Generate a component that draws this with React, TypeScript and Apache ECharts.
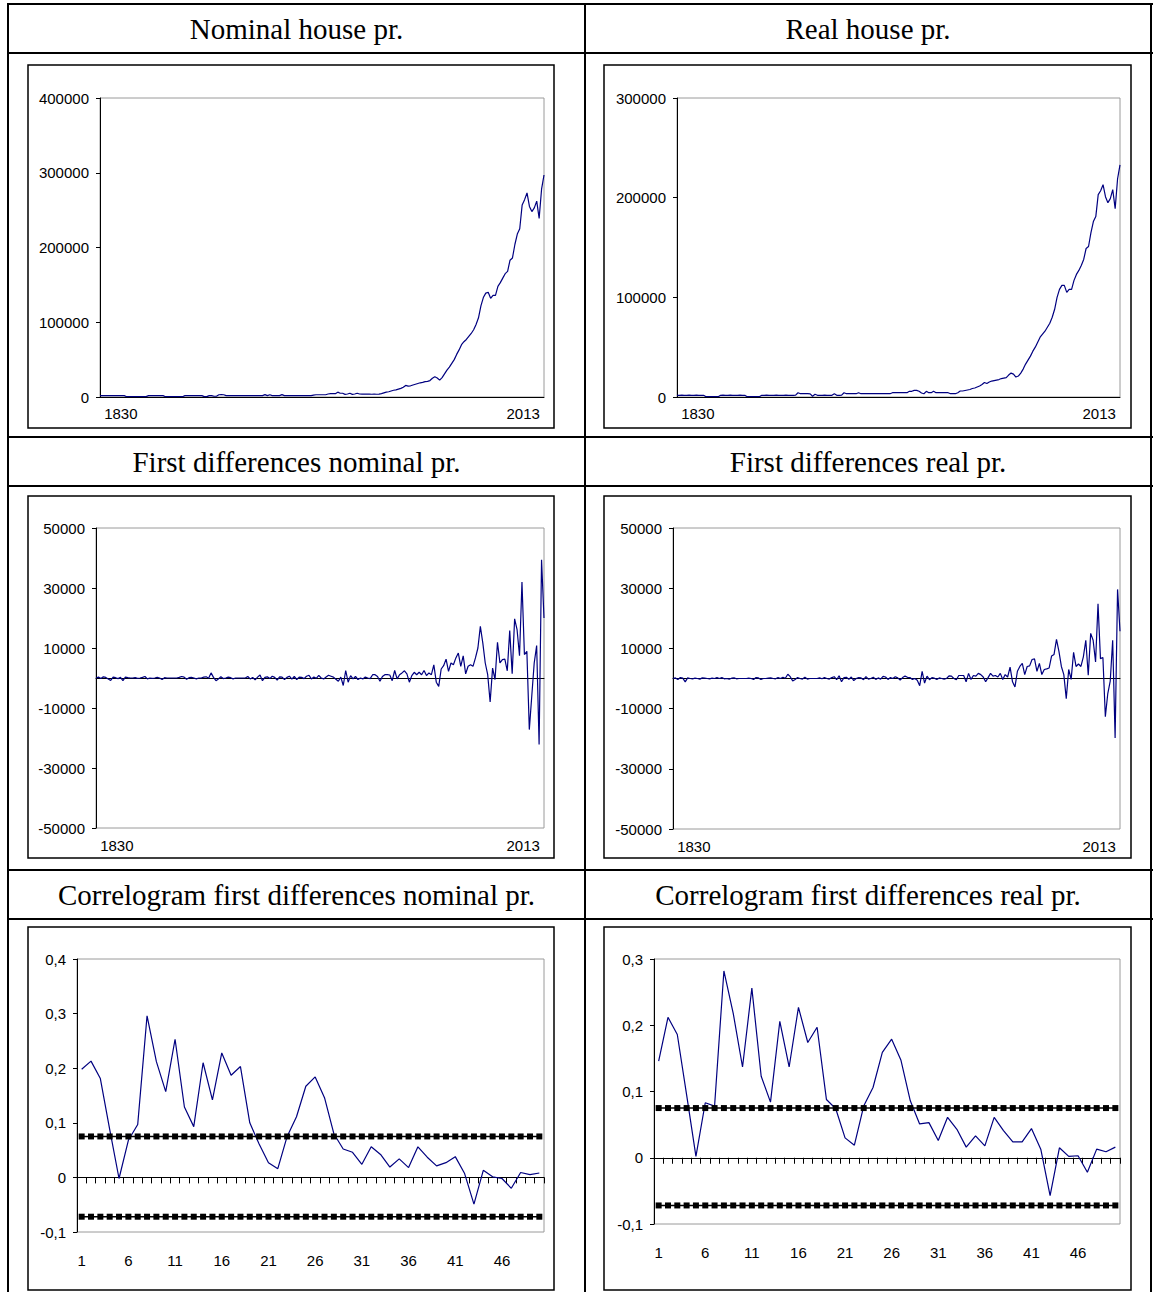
import React, { useEffect, useRef } from 'react';
import * as echarts from 'echarts';

// ---------- categories ----------
const years: string[] = [];
for (let y = 1830; y <= 2013; y++) years.push(String(y));
const lags: string[] = [];
for (let k = 1; k <= 50; k++) lags.push(String(k));

// ---------- nominal house price, 1830-2013 ----------
const nominalPrice: number[] = [
  // 1830-1839
  1800, 1800, 1900, 1900, 1800, 1800, 1900, 1800, 1800, 1900,
  // 1840-1849
  1800, 400, 400, 400, 500, 400, 400, 400, 400, 500,
  // 1850-1859
  1800, 1900, 1800, 1800, 1900, 1800, 1800, 400, 400, 400,
  // 1860-1869
  400, 400, 400, 400, 400, 1800, 1800, 1900, 1800, 1800,
  // 1870-1879
  1800, 1900, 1800, 500, 500, 1800, 1900, 1000, 1000, 3000,
  // 1880-1889
  3200, 3000, 1800, 1800, 1900, 1800, 1800, 1800, 1900, 1800,
  // 1890-1899
  1800, 1800, 1900, 1800, 1800, 1800, 1800, 1900, 3200, 1800,
  // 1900-1909
  3000, 1800, 1900, 1800, 1800, 3200, 1800, 1800, 1900, 1800,
  // 1910-1919
  1800, 1900, 1800, 1800, 1800, 1800, 1800, 1800, 2500, 3000,
  // 1920-1929
  3000, 3000, 3000, 3000, 4000, 4500, 4500, 4500, 6500, 5000,
  // 1930-1939
  5000, 3500, 4000, 5000, 3500, 4000, 5000, 4000, 3800, 3800,
  // 1940-1945
  3800, 3800, 3700, 3800, 3700, 3800,
  // 1946-1955
  4500, 5500, 6500, 7000, 8000, 9000, 9500, 10500, 11500, 13000,
  // 1956-1965
  15500, 14500, 15000, 16000, 17000, 18000, 19000, 19500, 20500, 21000,
  // 1966-1975
  22000, 25000, 27000, 25500, 22500, 26000, 31000, 36000, 40000, 45000,
  // 1976-1985
  50000, 57000, 63000, 70000, 74000, 77000, 81000, 85000, 90000, 97000,
  // 1986-1995
  106000, 122000, 133000, 139000, 140000, 132000, 136000, 136000, 148000, 153000,
  // 1996-2005
  159000, 165000, 168000, 183000, 186000, 204000, 218000, 225000, 257000, 264000,
  // 2006-2013
  273000, 255000, 248000, 253000, 262000, 239000, 278000, 297000,
];

// ---------- real house price, 1830-2013 ----------
const realPrice: number[] = [
  // 1830-1839
  1700, 1700, 1800, 1700, 1700, 1800, 1700, 1700, 1800, 1700,
  // 1840-1849
  1700, 1700, 300, 300, 400, 300, 300, 300, 1700, 1800,
  // 1850-1859
  1700, 1700, 1800, 1700, 1700, 1700, 1800, 1700, 1700, 300,
  // 1860-1869
  300, 300, 400, 300, 300, 1700, 1700, 1800, 1700, 1700,
  // 1870-1879
  1700, 1800, 1700, 1700, 1700, 1800, 1700, 1700, 1700, 1800,
  // 1880-1889
  4300, 3300, 3300, 3300, 3300, 3200, 800, 2700, 1700, 1700,
  // 1890-1899
  1700, 1800, 1700, 1700, 1700, 3300, 1700, 1700, 1800, 4300,
  // 1900-1909
  3300, 3300, 3300, 3300, 3300, 4300, 3300, 3300, 3300, 3300,
  // 1910-1919
  3300, 3300, 3300, 3300, 3300, 3300, 3300, 3300, 3300, 4300,
  // 1920-1929
  4300, 4300, 4300, 4300, 4300, 4300, 5700, 5700, 6700, 6700,
  // 1930-1939
  5700, 4000, 3300, 5700, 4300, 4300, 5700, 4300, 4300, 4300,
  // 1940-1946
  4300, 4300, 4300, 3300, 3300, 3300, 4300,
  // 1947-1956
  6000, 6000, 6500, 7000, 7500, 8500, 9000, 10000, 11000, 12500,
  // 1957-1966
  14500, 13500, 15000, 16000, 16500, 17000, 17500, 18500, 19000, 19500,
  // 1967-1976
  22000, 24000, 23000, 20000, 21000, 24000, 28000, 33000, 37000, 41000,
  // 1977-1986
  46000, 50000, 55000, 60000, 63000, 66000, 70000, 74000, 80000, 88000,
  // 1987-1996
  100000, 108000, 112000, 112000, 105000, 108000, 108000, 117000, 123000, 127000,
  // 1997-2006
  132000, 138000, 149000, 151000, 165000, 176000, 181000, 203000, 207000, 213000,
  // 2007-2013
  201000, 195000, 199000, 208000, 189000, 219000, 233000,
];

// ---------- first differences, nominal, 1830-2013 ----------
const nominalDiff: number[] = [
  // 1830-1839
  0, 300, -200, 400, 200, -300, -800, 300, 100, -200,
  // 1840-1849
  200, -900, 300, 100, 0, 0, 100, -100, 0, 200,
  // 1850-1859
  500, -300, 0, -100, 0, 200, 0, -500, 100, 0,
  // 1860-1869
  0, 0, 0, 0, 200, 500, 300, -400, 100, 200,
  // 1870-1879
  0, -300, 0, 0, 300, 400, -100, 1700, 200, -900,
  // 1880-1889
  -300, 400, -200, 0, 300, 100, -300, 0, 0, 0,
  // 1890-1899
  0, 0, 500, -300, 200, -600, 300, 1000, -900, 200,
  // 1900-1909
  400, -200, 600, 200, -700, 400, 300, -500, 200, 600,
  // 1910-1919
  -400, 500, -500, 300, 200, -200, 600, 900, -300, 300,
  // 1920-1929
  -100, 900, 0, -300, 300, 900, 600, 300, -400, -1100,
  // 1930-1939
  300, -2500, 2500, -1400, 800, -300, 500, -500, 0, -300,
  // 1940-1947
  300, 0, -200, 1100, 1100, 500, -1100, 500,
  // 1948-1957
  1100, 1100, 1000, -900, 2500, -300, 1100, 1700, 2400, 1400,
  // 1958-1967
  -1400, 800, 1900, 1100, 1900, 1100, 2500, 800, 1700, 1100,
  // 1968-1977
  4400, -1400, -2800, 3000, 4100, 6300, 2200, 5000, 4400, 6700,
  // 1978-1987
  8300, 3900, 7400, 1400, 3900, 4400, 3900, 6700, 10000, 17200,
  // 1988-1997
  11700, 5000, 1100, -8000, 3300, -500, 11900, 5000, 6100, 6300,
  // 1998-2007
  2400, 15800, 1400, 19700, 16100, 7400, 32000, 7800, 8900, -17200,
  // 2008-2013
  -6100, 5000, 10800, -22200, 39400, 20000,
];

// ---------- first differences, real, 1830-2013 ----------
const realDiff: number[] = [
  // 1830-1839
  0, 200, -300, 300, 100, -1100, 200, 0, -100, 100,
  // 1840-1849
  0, -200, 200, 100, 0, -100, 100, 0, 300, 0,
  // 1850-1859
  300, -100, 0, -200, 100, 200, -100, 0, 0, 0,
  // 1860-1869
  0, 100, 0, -300, 300, 200, -300, 0, 0, 100,
  // 1870-1879
  200, 0, -100, 300, 0, 400, 100, 1400, 600, -800,
  // 1880-1889
  -300, 300, 0, -200, 400, -200, 0, 0, 0, 0,
  // 1890-1899
  200, -100, 300, 0, -200, 300, 600, -400, 900, -1100,
  // 1900-1909
  300, 400, -300, 500, -700, 0, 300, 200, -400, 600,
  // 1910-1919
  -200, 0, 400, -300, 200, -200, 700, 500, -300, 300,
  // 1920-1929
  0, 600, 200, -500, 300, 800, 400, 300, -300, 0,
  // 1930-1939
  -600, -2400, 2400, -1500, 800, -400, 300, 100, -300, 200,
  // 1940-1947
  0, -200, 0, 900, 800, 0, -400, 1000,
  // 1948-1957
  1000, 1000, -1100, 1700, -300, 1000, 800, 1700, 1300, 500,
  // 1958-1967
  -1100, 300, 1700, 800, 1000, 500, 1700, -300, 1300, 500,
  // 1968-1977
  3800, -1100, -2800, 2400, 4000, 5000, 1300, 4000, 4200, 6300,
  // 1978-1987
  6500, 2400, 5000, 1300, 3000, 3200, 3500, 7500, 8000, 13000,
  // 1988-1997
  9000, 4000, 1300, -6700, 3000, -300, 8700, 4000, 4800, 4000,
  // 1998-2007
  7200, 12700, 1100, 15000, 12700, 5500, 24800, 6600, 7000, -12700,
  // 2008-2013
  -5000, -900, 12700, -19800, 29600, 15700,
];

// ---------- correlograms, lags 1-50 ----------
const acfNominal: number[] = [
  0.198, 0.213, 0.181, 0.088, -0.002, 0.068, 0.097, 0.296, 0.212, 0.157,
  0.253, 0.129, 0.093, 0.210, 0.142, 0.228, 0.187, 0.203, 0.100, 0.061,
  0.027, 0.016, 0.075, 0.111, 0.167, 0.184, 0.146, 0.080, 0.052, 0.046,
  0.024, 0.056, 0.042, 0.019, 0.034, 0.018, 0.056, 0.037, 0.021, 0.027,
  0.038, 0.007, -0.049, 0.013, 0.001, -0.002, -0.020, 0.009, 0.005, 0.008,
];
const acfReal: number[] = [
  0.146, 0.212, 0.186, 0.095, 0.002, 0.083, 0.078, 0.282, 0.218, 0.137,
  0.256, 0.123, 0.084, 0.206, 0.137, 0.227, 0.174, 0.197, 0.088, 0.074,
  0.030, 0.019, 0.078, 0.106, 0.159, 0.179, 0.147, 0.086, 0.051, 0.053,
  0.026, 0.061, 0.043, 0.016, 0.033, 0.018, 0.061, 0.041, 0.024, 0.024,
  0.044, 0.013, -0.057, 0.015, 0.002, 0.003, -0.022, 0.013, 0.009, 0.016,
];
const bandUpperValue = 0.075;
const bandLowerValue = -0.072;
const bandUpper: number[] = lags.map(() => bandUpperValue);
const bandLower: number[] = lags.map(() => bandLowerValue);

// ---------- tick settings ----------
const nominalPriceTicks = { min: 0, max: 400000, interval: 100000 };
const realPriceTicks = { min: 0, max: 300000, interval: 100000 };
const diffTicks = { min: -50000, max: 50000, interval: 20000 };
const acfNominalTicks = { min: -0.1, max: 0.4, interval: 0.1 };
const acfRealTicks = { min: -0.1, max: 0.3, interval: 0.1 };

const headers = [
  ['Nominal house pr.', 'Real house pr.'],
  ['First differences nominal pr.', 'First differences real pr.'],
  ['Correlogram first differences nominal pr.', 'Correlogram first differences real pr.'],
];

const NAVY = '#000080';
const LABEL_FONT = "'Liberation Sans', Arial, sans-serif";
const LABEL_SIZE = 15;

export default function App() {
  const ref = useRef<HTMLDivElement>(null);

  useEffect(() => {
    if (!ref.current) return;
    const chart = echarts.init(ref.current, undefined, { renderer: 'svg' });

    const labelStyle = { color: '#000', fontFamily: LABEL_FONT, fontSize: LABEL_SIZE };

    const grids = [
      { left: 100, top: 98, width: 444, height: 299 },
      { left: 677, top: 98, width: 443, height: 299 },
      { left: 96, top: 528, width: 448, height: 300 },
      { left: 673, top: 528, width: 447, height: 301 },
      { left: 77, top: 959, width: 467, height: 273 },
      { left: 654, top: 959, width: 466, height: 265 },
    ].map((g) => ({ ...g, show: true, borderColor: '#9a9a9a', borderWidth: 1, backgroundColor: 'transparent' }));

    const lastYear = years.length - 1;
    const yearLabelAxis = (gridIndex: number, margin: number, showLine: boolean) => ({
      type: 'category',
      gridIndex,
      data: years,
      boundaryGap: false,
      position: 'bottom',
      axisLine: { show: showLine, onZero: false, lineStyle: { color: '#000', width: 1 } },
      axisTick: { show: false },
      splitLine: { show: false },
      axisLabel: {
        ...labelStyle,
        margin,
        interval: (i: number) => i === 0 || i === lastYear,
        alignMinLabel: 'left',
        alignMaxLabel: 'right',
        formatter: (v: string, i: number) => (i === 0 ? ' ' + v : v + ' '),
      },
    });
    const zeroAxis = (gridIndex: number, data: string[], ticks: boolean, boundaryGap: boolean) => ({
      type: 'category',
      gridIndex,
      data,
      boundaryGap,
      position: 'bottom',
      axisLine: { show: true, onZero: true, lineStyle: { color: '#000', width: 1 } },
      axisTick: { show: ticks, interval: 0, length: 6, lineStyle: { color: '#000', width: 1 } },
      axisLabel: { show: false },
      splitLine: { show: false },
    });
    const lagLabelAxis = (gridIndex: number) => ({
      type: 'category',
      gridIndex,
      data: lags,
      boundaryGap: true,
      position: 'bottom',
      axisLine: { show: false, onZero: false },
      axisTick: { show: false },
      splitLine: { show: false },
      axisLabel: { ...labelStyle, margin: 21, interval: (i: number) => i % 5 === 0 },
    });

    const valueAxis = (gridIndex: number, t: { min: number; max: number; interval: number }, fmt: (v: number) => string) => ({
      type: 'value',
      gridIndex,
      min: t.min,
      max: t.max,
      interval: t.interval,
      axisLine: { show: true, onZero: false, lineStyle: { color: '#000', width: 1 } },
      axisTick: { show: true, length: 4, lineStyle: { color: '#000', width: 1 } },
      splitLine: { show: false },
      axisLabel: { ...labelStyle, margin: 11, formatter: fmt },
    });
    const intFmt = (v: number) => String(Math.round(v));
    const decFmt = (v: number) => {
      const r = Math.round(v * 10) / 10;
      return r === 0 ? '0' : r.toFixed(1).replace('.', ',');
    };

    const xAxis = [
      yearLabelAxis(0, 9, true), // 0
      yearLabelAxis(1, 9, true), // 1
      yearLabelAxis(2, 10, false), // 2
      zeroAxis(2, years, false, false), // 3
      yearLabelAxis(3, 10, false), // 4
      zeroAxis(3, years, false, false), // 5
      lagLabelAxis(4), // 6
      zeroAxis(4, lags, true, true), // 7
      lagLabelAxis(5), // 8
      zeroAxis(5, lags, true, true), // 9
    ];
    const yAxis = [
      valueAxis(0, nominalPriceTicks, intFmt),
      valueAxis(1, realPriceTicks, intFmt),
      valueAxis(2, diffTicks, intFmt),
      valueAxis(3, diffTicks, intFmt),
      valueAxis(4, acfNominalTicks, decFmt),
      valueAxis(5, acfRealTicks, decFmt),
    ];

    const lineSeries = (data: number[], xi: number, yi: number) => ({
      type: 'line',
      data,
      xAxisIndex: xi,
      yAxisIndex: yi,
      showSymbol: false,
      symbol: 'none',
      lineStyle: { color: NAVY, width: 1.2 },
      itemStyle: { color: NAVY },
      z: 3,
    });
    const bandSeries = (data: number[], xi: number, yi: number) => ({
      type: 'line',
      data,
      xAxisIndex: xi,
      yAxisIndex: yi,
      symbol: 'rect',
      symbolSize: 6,
      showSymbol: true,
      lineStyle: { color: '#000', width: 1.5 },
      itemStyle: { color: '#000' },
      z: 4,
    });

    const series = [
      lineSeries(nominalPrice, 0, 0),
      lineSeries(realPrice, 1, 1),
      lineSeries(nominalDiff, 2, 2),
      lineSeries(realDiff, 4, 3),
      lineSeries(acfNominal, 6, 4),
      bandSeries(bandUpper, 6, 4),
      bandSeries(bandLower, 6, 4),
      lineSeries(acfReal, 8, 5),
      bandSeries(bandUpper, 8, 5),
      bandSeries(bandLower, 8, 5),
    ];

    // table frame and chart boxes
    const hLines = [4, 53, 437, 486, 870, 919];
    const vLines = [8, 585, 1151];
    const graphics: any[] = [];
    hLines.forEach((y) =>
      graphics.push({ type: 'line', shape: { x1: 7, y1: y, x2: 1153, y2: y }, style: { stroke: '#000', lineWidth: 2 }, silent: true })
    );
    vLines.forEach((x) =>
      graphics.push({ type: 'line', shape: { x1: x, y1: 3, x2: x, y2: 1292 }, style: { stroke: '#000', lineWidth: 2 }, silent: true })
    );
    const boxes = [
      [28, 65, 526, 363],
      [604, 65, 527, 363],
      [28, 496, 526, 362],
      [604, 496, 527, 362],
      [28, 927, 526, 363],
      [604, 927, 527, 363],
    ];
    boxes.forEach(([x, y, w, h]) =>
      graphics.push({ type: 'rect', shape: { x, y, width: w, height: h }, style: { fill: 'transparent', stroke: '#000', lineWidth: 1.5 }, silent: true })
    );
    const headerY = [29, 462, 895];
    const colCenter = [296.5, 868];
    headers.forEach((row, r) =>
      row.forEach((txt, c) =>
        graphics.push({
          type: 'text',
          x: colCenter[c],
          y: headerY[r],
          style: {
            text: txt,
            fill: '#000',
            font: "29px 'Liberation Serif', 'Times New Roman', serif",
            textAlign: 'center',
            textVerticalAlign: 'middle',
          },
          silent: true,
        })
      )
    );

    chart.setOption({
      animation: false,
      backgroundColor: '#fff',
      grid: grids,
      xAxis,
      yAxis,
      series,
      graphic: { elements: graphics },
    });

    return () => chart.dispose();
  }, []);

  return <div ref={ref} style={{ position: 'absolute', left: 0, top: 0, width: 1153, height: 1292 }} />;
}
